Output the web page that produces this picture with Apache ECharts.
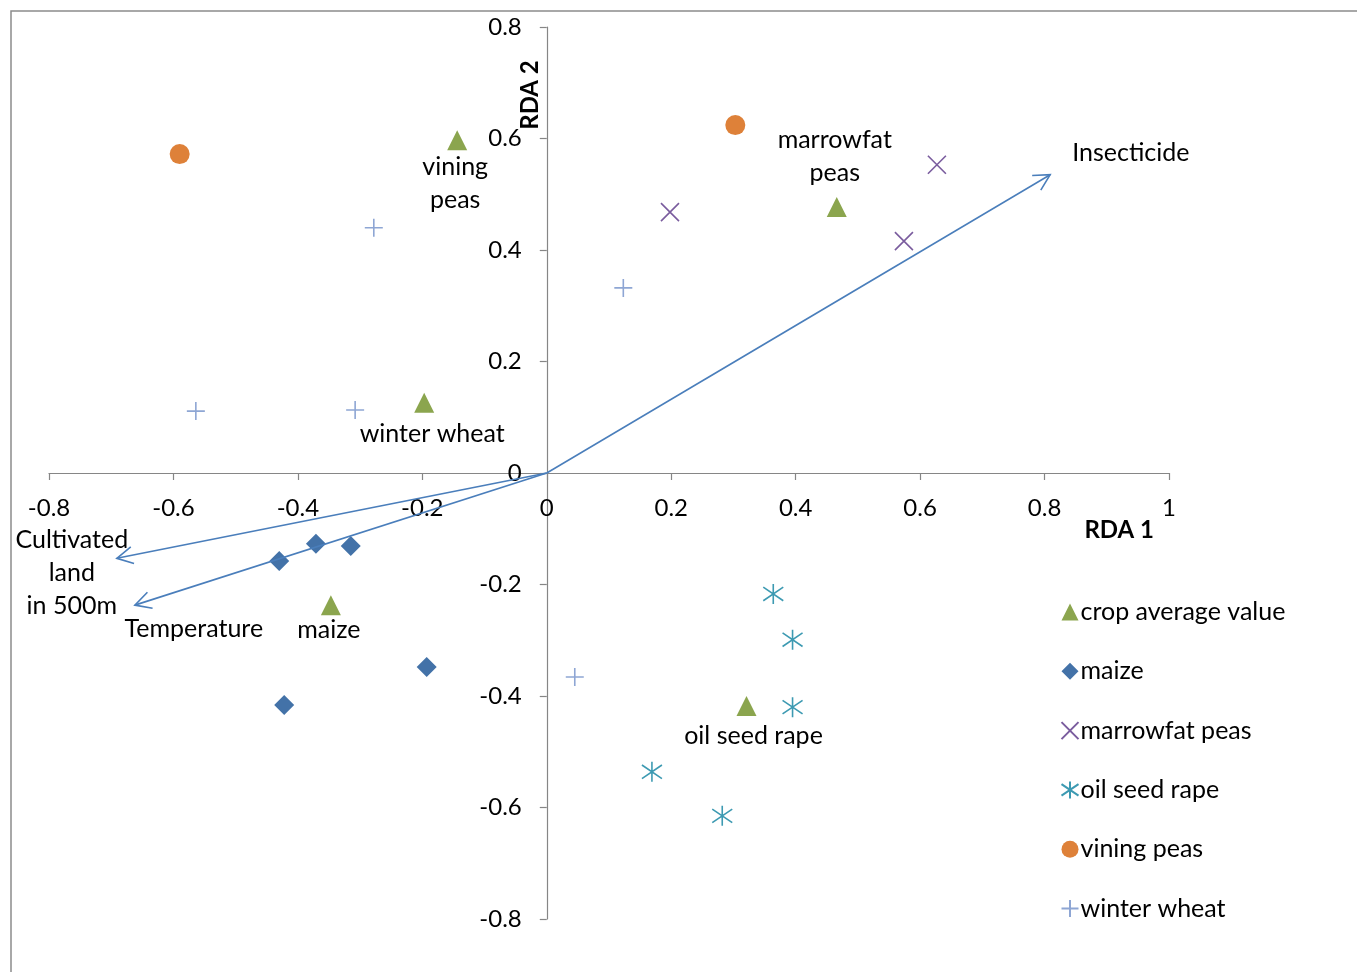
<!DOCTYPE html>
<html>
<head>
<meta charset="utf-8">
<title>RDA biplot</title>
<script src="https://cdn.jsdelivr.net/npm/echarts@6/dist/echarts.min.js"></script>
<style>
  html, body { margin: 0; padding: 0; background: #ffffff; }
  #chart { width: 1357px; height: 972px; }
</style>
</head>
<body>
<div id="chart"></div>
<script>
// RDA site scores per crop, [RDA 1, RDA 2]
const maize = [[-0.430, -0.158], [-0.371, -0.127], [-0.315, -0.131], [-0.193, -0.348], [-0.422, -0.416]];
const marrowfatPeas = [[0.198, 0.468], [0.574, 0.416], [0.627, 0.553]];
const oilSeedRape = [[0.364, -0.217], [0.395, -0.299], [0.395, -0.420], [0.169, -0.536], [0.282, -0.615]];
const viningPeas = [[-0.590, 0.572], [0.303, 0.624]];
const winterWheat = [[-0.564, 0.111], [-0.308, 0.113], [-0.278, 0.440], [0.123, 0.332], [0.045, -0.366]];

// crop centroids
const cropNames = ['vining\npeas', 'marrowfat\npeas', 'winter wheat', 'maize', 'oil seed rape'];
const cropAverage = [[-0.144, 0.597], [0.466, 0.477], [-0.197, 0.126], [-0.347, -0.237], [0.321, -0.418]];

// explanatory variable vectors
const envNames = ['Insecticide', 'Cultivated\nland\nin 500m', 'Temperature'];
const envVectors = [[0.809, 0.535], [-0.691, -0.153], [-0.662, -0.237]];

// axis ranges
const xTicks = [-0.8, -0.6, -0.4, -0.2, 0, 0.2, 0.4, 0.6, 0.8, 1];
const yTicks = [-0.8, -0.6, -0.4, -0.2, 0, 0.2, 0.4, 0.6, 0.8];

const FONT = 'Lato, "Open Sans", sans-serif';
const AXIS_GREY = '#868686';
const ARROW_BLUE = '#4A7EBB';
const LABEL_SIZE = 25;

// plot area
const GRID = { left: 49, right: 188, top: 27, bottom: 53 };
const W = 1357, H = 972;
const plotW = W - GRID.left - GRID.right;
const plotH = H - GRID.top - GRID.bottom;
const xMin = xTicks[0], xMax = xTicks[xTicks.length - 1];
const yMin = yTicks[0], yMax = yTicks[yTicks.length - 1];
// both axes cross at the origin, labels and ticks included
const xAxisShift = -plotH * (0 - yMin) / (yMax - yMin);
const yAxisShift = -plotW * (0 - xMin) / (xMax - xMin);

// label placement for the centroid names
const cropLabelPlacement = [
  { position: 'bottom', distance: 0, offset: [-2, 0] },
  { position: 'top', distance: 8, offset: [-2, 0] },
  { position: 'bottom', distance: 5, offset: [8, 0] },
  { position: 'bottom', distance: 0, offset: [-2, -2] },
  { position: 'bottom', distance: 3, offset: [7, 0] }
];
// text offsets from each arrow tip
const envLabelPlacement = [
  { dx: 22, dy: -22, align: 'left' },
  { dx: -45, dy: 15, align: 'center' },
  { dx: 59, dy: 24, align: 'center' }
];

const SYM_X = 'path://M0,0L10,10M10,0L0,10';
const SYM_STAR = 'path://M0,1.6L10,8.4M10,1.6L0,8.4M5,0L5,10';
const SYM_PLUS = 'path://M0,5L10,5M5,0L5,10';

function strokeSeries(name, data, symbol, size, color) {
  return {
    name, type: 'scatter', data, symbol, symbolSize: size,
    itemStyle: { color: 'none', borderColor: color, borderWidth: 1.6, opacity: 1 },
    emphasis: { disabled: true }
  };
}

const chart = echarts.init(document.getElementById('chart'), null, { renderer: 'canvas' });

const tickFmt = v => String(Math.round(v * 10) / 10);

const option = {
  backgroundColor: '#ffffff',
  animation: false,
  textStyle: { fontFamily: FONT },
  grid: Object.assign({ containLabel: false, outerBoundsMode: 'none' }, GRID),
  xAxis: {
    type: 'value', min: xMin, max: xMax, interval: 0.2,
    position: 'bottom', offset: xAxisShift,
    axisLine: { onZero: false, lineStyle: { color: AXIS_GREY, width: 1.2 } },
    axisTick: { show: true, length: 7, lineStyle: { color: AXIS_GREY, width: 1.2 } },
    axisLabel: { margin: 23, color: '#000', fontSize: 24, fontFamily: FONT, formatter: tickFmt },
    splitLine: { show: false }
  },
  yAxis: {
    type: 'value', min: yMin, max: yMax, interval: 0.2,
    position: 'left', offset: yAxisShift,
    axisLine: { onZero: false, lineStyle: { color: AXIS_GREY, width: 1.2 } },
    axisTick: { show: true, length: 7, lineStyle: { color: AXIS_GREY, width: 1.2 } },
    axisLabel: { margin: 25, color: '#000', fontSize: 24, fontFamily: FONT, formatter: tickFmt },
    splitLine: { show: false }
  },
  legend: {
    orient: 'vertical', left: 1059, top: 597, padding: 0,
    itemWidth: 17, itemHeight: 17, itemGap: 29.3,
    textStyle: { fontSize: LABEL_SIZE, fontFamily: FONT, color: '#000', lineHeight: 30, padding: [0, 0, 0, -3] },
    data: ['crop average value', 'maize', 'marrowfat peas', 'oil seed rape', 'vining peas', 'winter wheat'],
    selectedMode: false
  },
  graphic: [
    { type: 'rect', silent: true, z: -10,
      shape: { x: 11, y: 11, width: 1400, height: 1000 },
      style: { fill: 'none', stroke: '#8c8c8c', lineWidth: 1.5 } },
    { type: 'text', x: 1154, y: 530, silent: true,
      style: { text: 'RDA 1', font: 'bold 24px ' + FONT, fill: '#000', align: 'right', verticalAlign: 'middle' } },
    { type: 'text', x: 530, y: 95, rotation: Math.PI / 2, silent: true,
      style: { text: 'RDA 2', font: 'bold 24px ' + FONT, fill: '#000', align: 'center', verticalAlign: 'middle' } }
  ],
  series: [
    {
      name: 'crop average value', type: 'scatter', symbol: 'triangle', symbolSize: 20,
      itemStyle: { color: '#8BA54E', opacity: 1 },
      emphasis: { disabled: true },
      label: { show: true, color: '#000', fontSize: LABEL_SIZE, fontFamily: FONT, lineHeight: 33, formatter: p => p.name },
      data: cropAverage.map((v, i) => ({
        value: v, name: cropNames[i],
        label: Object.assign({ color: '#000' }, cropLabelPlacement[i])
      }))
    },
    {
      name: 'maize', type: 'scatter', symbol: 'diamond', symbolSize: 20,
      itemStyle: { color: '#4372A8', opacity: 1 }, emphasis: { disabled: true }, data: maize
    },
    strokeSeries('marrowfat peas', marrowfatPeas, SYM_X, 18, '#7A5C9E'),
    strokeSeries('oil seed rape', oilSeedRape, SYM_STAR, 20, '#3D9AB2'),
    {
      name: 'vining peas', type: 'scatter', symbol: 'circle', symbolSize: 20,
      itemStyle: { color: '#DE8139', opacity: 1 }, emphasis: { disabled: true }, data: viningPeas
    },
    strokeSeries('winter wheat', winterWheat, SYM_PLUS, 18, '#8EA6D4'),
    {
      name: 'vectors', type: 'custom', z: 5, silent: true,
      encode: { x: 0, y: 1 },
      data: envVectors.map((v, i) => [v[0], v[1], i]),
      renderItem(params, api) {
        const i = api.value(2);
        const tip = api.coord([api.value(0), api.value(1)]);
        const o = api.coord([0, 0]);
        let ux = o[0] - tip[0], uy = o[1] - tip[1];
        const len = Math.hypot(ux, uy);
        ux /= len; uy /= len;
        const a = 28 * Math.PI / 180, L = 18;
        const arm = s => [
          tip[0] + L * (ux * Math.cos(s * a) - uy * Math.sin(s * a)),
          tip[1] + L * (ux * Math.sin(s * a) + uy * Math.cos(s * a))
        ];
        const pl = envLabelPlacement[i];
        return {
          type: 'group',
          children: [
            { type: 'line', shape: { x1: o[0], y1: o[1], x2: tip[0], y2: tip[1] },
              style: { stroke: ARROW_BLUE, lineWidth: 1.6 } },
            { type: 'polyline', shape: { points: [arm(1), tip, arm(-1)] },
              style: { stroke: ARROW_BLUE, fill: 'none', lineWidth: 1.6 } },
            { type: 'text', x: tip[0] + pl.dx, y: tip[1] + pl.dy,
              style: { text: envNames[i], font: LABEL_SIZE + 'px ' + FONT, fill: '#000',
                       align: pl.align, verticalAlign: 'middle', lineHeight: 33 } }
          ]
        };
      }
    }
  ]
};

chart.setOption(option);
</script>
</body>
</html>
